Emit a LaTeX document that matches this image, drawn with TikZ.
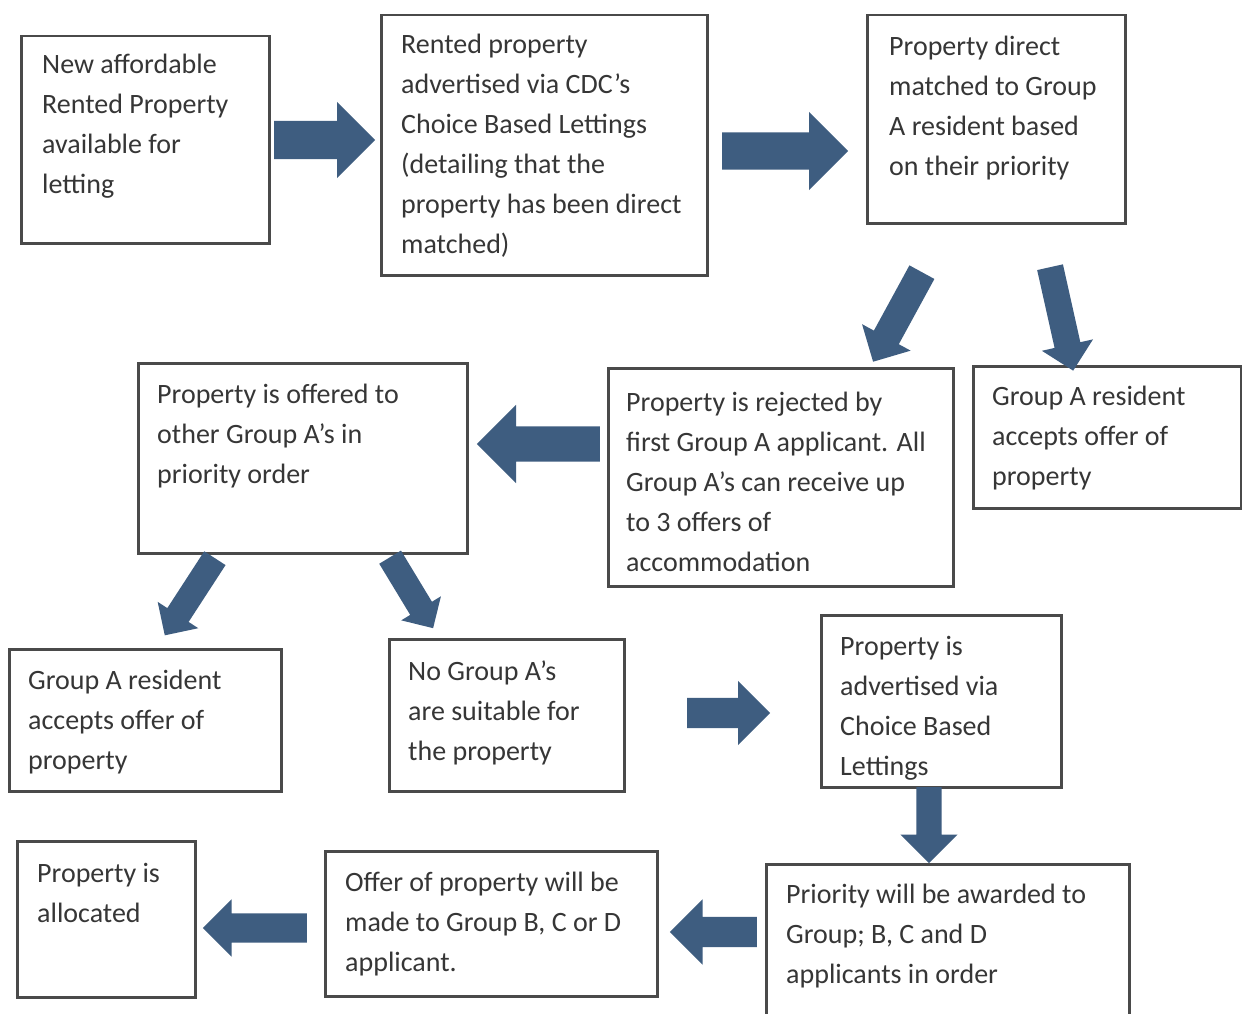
\documentclass[tikz,border=0pt]{standalone}
\usepackage{fontspec}
\setmainfont{Carlito}
\usetikzlibrary{shapes.arrows}
\definecolor{arrowblue}{HTML}{3E5D80}
\definecolor{boxline}{HTML}{4A4A4A}
\definecolor{txtgray}{HTML}{363636}
\tikzset{
  box/.style={draw=boxline, line width=2.5pt, anchor=north west, inner sep=0pt},
  txt/.style={anchor=north west, inner sep=0pt, align=left, text=txtgray,
    font=\fontsize{28}{40}\selectfont},
  barrow/.style n args={3}{shape=single arrow, fill=arrowblue, draw=none,
    inner xsep=0pt, inner ysep=#2/2, minimum height=#1, minimum width=#3,
    single arrow head extend=(#3-#2)/2, anchor=tail}
}
\begin{document}
\begin{tikzpicture}[x=1pt,y=-1pt]
\useasboundingbox (0,0) rectangle (1242,1014);
\fill[white] (0,0) rectangle (1242,1014);

% boxes
\node[box, minimum width=248, minimum height=207] (b1) at (20,35) {};
\node[box, minimum width=326, minimum height=260] (b2) at (380,14) {};
\node[box, minimum width=258, minimum height=208] (b3) at (866,14) {};
\node[box, minimum width=329, minimum height=190] (b4) at (137,362) {};
\node[box, minimum width=345, minimum height=218] (b5) at (607,367) {};
\node[box, minimum width=268, minimum height=142] (b6) at (972,365) {};
\node[box, minimum width=272, minimum height=142] (b7) at (8,648) {};
\node[box, minimum width=235, minimum height=152] (b8) at (388,638) {};
\node[box, minimum width=240, minimum height=172] (b9) at (820,614) {};
\node[box, minimum width=178, minimum height=156] (b10) at (16,840) {};
\node[box, minimum width=332, minimum height=145] (b11) at (324,850) {};
\node[box, minimum width=363, minimum height=165] (b12) at (765,863) {};

% texts
\node[txt] (t1) at (42,45) {\strut New affordable\\Rented Property\\available for\\letting};
\node[txt] (t2) at (401,25) {\strut Rented property\\advertised via CDC’s\\Choice Based Lettings\\(detailing that the\\property has been direct\\matched)};
\node[txt] (t3) at (889,27) {\strut Property direct\\matched to Group\\A resident based\\on their priority};
\node[txt] (t4) at (157,375) {\strut Property is offered to\\other Group A’s in\\priority order};
\node[txt] (t5) at (626,383) {\strut Property is rejected by\\first Group A applicant. All\\Group A’s can receive up\\to 3 offers of\\accommodation};
\node[txt] (t6) at (992,377) {\strut Group A resident\\accepts offer of\\property};
\node[txt] (t7) at (28,661) {\strut Group A resident\\accepts offer of\\property};
\node[txt] (t8) at (408,652) {\strut No Group A’s\\are suitable for\\the property};
\node[txt] (t9) at (840,627) {\strut Property is\\advertised via\\Choice Based\\Lettings};
\node[txt] (t10) at (37,854) {\strut Property is\\allocated};
\node[txt] (t11) at (345,863) {\strut Offer of property will be\\made to Group B, C or D\\applicant.};
\node[txt] (t12) at (786,875) {\strut Priority will be awarded to\\Group; B, C and D\\applicants in order};

% block arrows (placed by their tails)
\node[barrow={101}{38}{76}] (a1) at (274,140) {};
\node[barrow={126}{37}{78}] (a2) at (722,151) {};
\node[barrow={102}{28}{55}, rotate=241.4] (a3) at (922,272) {};
\node[barrow={106}{26}{52}, rotate=282.6] (a4) at (1050,267) {};
\node[barrow={123}{35}{78}, rotate=180] (a5) at (600,444) {};
\node[barrow={92}{25}{48}, rotate=237] (a6) at (215,558) {};
\node[barrow={83}{25}{46}, rotate=301.2] (a7) at (390,557) {};
\node[barrow={83}{30}{64}] (a8) at (687,713) {};
\node[barrow={76}{25}{57}, rotate=270] (a9) at (929,787) {};
\node[barrow={87}{30}{65}, rotate=180] (a10) at (757,932) {};
\node[barrow={104}{29}{57}, rotate=180] (a11) at (307,928) {};
\end{tikzpicture}
\end{document}
